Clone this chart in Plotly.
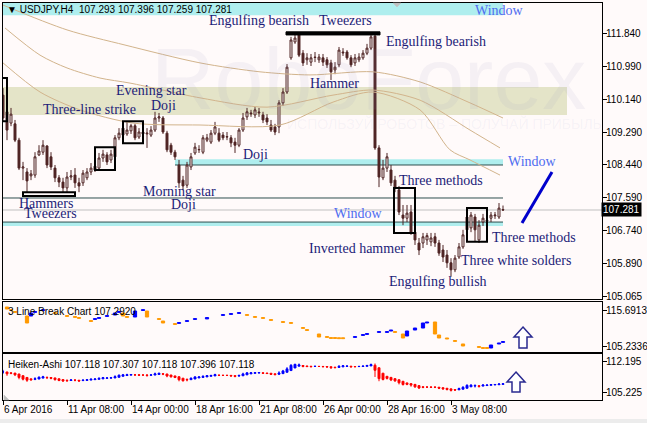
import plotly.graph_objects as go

W, H = 647, 423

# ---------------- data: USDJPY H4 (bar 0 = 6 Apr 2016 00:00) ----------------
opens = [110.24, 109.81, 109.52, 109.50, 109.08, 108.36, 108.26, 108.16, 108.18, 108.70,
         108.77, 108.93, 108.65, 108.36, 108.11, 108.00, 107.85, 108.13, 108.18, 107.98,
         107.98, 108.11, 108.26, 108.31, 108.36, 108.62, 108.70, 108.57, 108.65, 109.14,
         109.21, 109.24, 109.32, 109.45, 109.16, 109.29, 109.24, 109.21, 109.34, 109.65,
         109.65, 109.26, 108.95, 108.77, 108.44, 108.05, 107.92, 108.39, 108.75, 108.83,
         108.77, 109.08, 109.03, 109.26, 109.26, 109.21, 109.16, 109.14, 109.03, 108.95,
         109.34, 109.68, 109.78, 109.73, 109.78, 109.73, 109.65, 109.47, 109.42, 109.42,
         110.04, 110.32, 111.20, 111.61, 111.84, 111.32, 111.15, 111.09, 111.22, 111.15,
         111.20, 111.15, 111.07, 110.89, 111.02, 111.35, 111.35, 111.20, 111.07, 111.15,
         111.20, 111.32, 111.45, 111.76, 108.88, 108.11, 108.36, 108.31, 108.05, 107.80,
         107.15, 107.07, 107.23, 106.71, 106.43, 106.43, 106.51, 106.46, 106.59, 106.43,
         106.25, 106.12, 105.92, 105.74, 106.07, 106.33, 106.77, 106.82, 107.10, 106.51,
         106.97, 107.02, 107.07, 107.13, 107.10, 107.293]
highs = [110.42, 109.91, 109.91, 109.60, 109.14, 108.52, 108.36, 108.31, 108.77, 108.95,
         109.08, 108.95, 108.77, 108.44, 108.18, 108.11, 108.26, 108.31, 108.36, 108.11,
         108.31, 108.36, 108.49, 108.52, 108.75, 108.83, 108.77, 108.83, 109.21, 109.39,
         109.50, 109.55, 109.50, 109.50, 109.39, 109.34, 109.39, 109.44, 109.81, 109.78,
         109.70, 109.32, 109.01, 108.83, 108.57, 108.16, 108.52, 108.75, 109.01, 108.95,
         109.21, 109.24, 109.34, 109.55, 109.39, 109.29, 109.29, 109.21, 109.14, 109.39,
         109.78, 109.91, 109.86, 109.93, 109.91, 109.81, 109.75, 109.60, 109.50, 110.11,
         110.42, 111.04, 111.74, 111.79, 111.86, 111.40, 111.32, 111.30, 111.35, 111.30,
         111.30, 111.22, 111.15, 111.09, 111.48, 111.45, 111.40, 111.27, 111.30, 111.32,
         111.40, 111.56, 111.84, 111.86, 108.95, 108.57, 108.75, 108.44, 108.16, 107.90,
         107.41, 107.41, 107.41, 106.82, 106.56, 106.69, 106.69, 106.69, 106.69, 106.51,
         106.38, 106.25, 106.04, 106.12, 106.43, 106.77, 107.20, 107.23, 107.18, 107.02,
         107.18, 107.13, 107.23, 107.23, 107.46, 107.396]
lows = [109.55, 109.08, 109.44, 109.03, 108.31, 108.05, 107.72, 108.05, 108.11, 108.67,
        108.70, 108.36, 108.31, 108.00, 107.87, 107.72, 107.72, 108.05, 107.85, 107.74,
        107.90, 108.05, 108.18, 108.26, 108.31, 108.52, 108.44, 108.49, 108.57, 109.08,
        109.14, 109.19, 109.24, 109.08, 109.11, 109.16, 108.88, 109.16, 109.29, 109.55,
        109.24, 108.77, 108.70, 108.57, 107.85, 107.80, 107.85, 108.31, 108.70, 108.75,
        108.72, 109.03, 108.98, 109.21, 109.03, 109.08, 109.08, 108.90, 108.75, 108.90,
        109.29, 109.60, 109.68, 109.65, 109.68, 109.52, 109.47, 109.29, 109.21, 109.26,
        109.96, 110.27, 111.15, 111.56, 111.22, 110.99, 111.02, 110.99, 111.09, 111.07,
        110.99, 110.94, 110.63, 110.78, 110.96, 111.25, 111.15, 110.96, 110.99, 111.09,
        111.15, 111.27, 111.40, 108.83, 107.87, 108.05, 108.26, 107.90, 107.74, 107.15,
        106.89, 106.97, 106.64, 106.38, 106.12, 106.30, 106.38, 106.35, 106.33, 106.10,
        105.94, 105.79, 105.56, 105.68, 106.02, 106.28, 106.69, 106.71, 106.46, 106.43,
        106.87, 106.92, 106.97, 107.05, 107.05, 107.259]
closes = [109.65, 109.34, 109.75, 109.08, 108.36, 108.39, 108.03, 108.21, 108.65, 108.80,
          108.95, 108.44, 108.39, 108.11, 108.00, 107.85, 108.13, 108.16, 107.98, 107.90,
          108.23, 108.26, 108.36, 108.41, 108.62, 108.72, 108.52, 108.72, 109.14, 109.26,
          109.39, 109.34, 109.45, 109.14, 109.29, 109.24, 109.26, 109.34, 109.65, 109.68,
          109.29, 108.83, 108.77, 108.65, 107.98, 107.90, 108.44, 108.65, 108.90, 108.84,
          109.14, 109.14, 109.26, 109.42, 109.08, 109.14, 109.17, 109.01, 108.95, 109.34,
          109.65, 109.81, 109.76, 109.86, 109.80, 109.60, 109.55, 109.34, 109.29, 110.04,
          110.32, 110.96, 111.66, 111.71, 111.27, 111.07, 111.20, 111.20, 111.21, 111.22,
          111.09, 111.02, 110.84, 110.96, 111.40, 111.33, 111.20, 111.02, 111.20, 111.22,
          111.32, 111.45, 111.74, 108.88, 108.13, 108.36, 108.65, 107.98, 107.85, 107.23,
          107.07, 107.20, 106.71, 106.51, 106.25, 106.59, 106.62, 106.56, 106.43, 106.17,
          106.07, 105.92, 105.74, 106.04, 106.33, 106.64, 107.10, 107.15, 106.77, 106.89,
          107.07, 107.00, 107.15, 107.15, 107.33, 107.281]
bars = list(range(len(closes)))

# moving averages (bar index, price)
ma1_x = [0, 16, 30.5, 49.25, 64.25, 76.75, 92.5, 104.25, 116.75, 125]
ma1_y = [112.56, 111.92, 111.53, 111.07, 110.84, 110.76, 110.84, 110.58, 110.04, 109.65]
ma2_x = [0.5, 9.25, 16, 24.25, 31.75, 49.25, 66, 82.5, 92.5, 104.25, 116.75, 124.25]
ma2_y = [111.97, 111.27, 110.94, 110.68, 110.55, 110.17, 109.93, 110.24, 110.37, 110.11, 109.34, 108.88]
ma3_x = [0, 9.25, 19.25, 32.5, 49.25, 69.25, 82.5, 92.5, 104.25, 111.75, 116.75, 124.25]
ma3_y = [111.07, 110.32, 109.86, 109.52, 109.47, 109.47, 110.06, 110.32, 109.86, 108.83, 108.57, 108.18]

# 3 Line Break indicator segments
lb_x = [1, 2, 3, 6, 7, 8, 10, 13, 16, 18, 19, 22, 23, 24, 26, 28, 29, 30, 31, 33, 35, 36, 39, 40,
        43, 44, 46, 48, 51, 55, 57, 59, 61, 63, 65, 67, 70, 72, 75, 76, 79, 81, 82, 83, 84, 85,
        88, 90, 91, 94, 96, 97, 98, 100, 101, 103, 105, 106, 108, 109, 111, 113, 115, 119, 120,
        121, 122, 124, 125]
lb_top = [116.56, 115.80, 115.25, 113.95, 114.82, 115.25, 115.80, 114.95, 114.08, 113.80, 113.50,
          112.62, 113.20, 113.50, 114.08, 114.82, 115.25, 114.82, 113.80, 115.40, 115.80, 115.40,
          113.20, 112.50, 111.75, 112.05, 112.62, 113.20, 113.50, 114.37, 114.66, 114.95, 114.37,
          113.80, 113.50, 112.92, 112.33, 112.05, 110.60, 110.00, 108.72, 107.98, 107.68, 107.68,
          107.62, 107.62, 107.98, 108.56, 108.85, 109.43, 109.43, 109.88, 109.43, 108.72, 109.59,
          110.46, 111.92, 112.21, 112.21, 108.43, 107.56, 106.82, 105.82, 105.07, 104.78, 104.78,
          105.52, 106.11, 106.53]
lb_bot = [115.98, 115.55, 115.00, 111.92, 113.95, 115.00, 115.55, 114.70, 113.83, 113.55, 113.25,
          112.37, 112.95, 113.25, 113.83, 114.24, 115.00, 113.95, 113.55, 113.66, 115.55, 113.66,
          112.95, 111.92, 111.50, 111.80, 112.37, 112.95, 113.10, 114.12, 114.41, 114.70, 114.12,
          113.55, 113.25, 112.67, 112.08, 111.80, 110.35, 109.75, 107.85, 107.73, 107.43, 107.43,
          107.37, 107.37, 107.73, 108.31, 108.60, 109.18, 109.18, 109.59, 109.18, 107.56, 108.14,
          109.88, 110.46, 111.92, 108.72, 107.56, 107.27, 106.57, 105.23, 104.82, 104.53, 104.53,
          104.65, 105.82, 106.28]
lb_up = [0, 0, 0, 0, 1, 1, 1, 0, 0, 0, 0, 0, 1, 1, 1, 1, 1, 0, 0, 1, 1, 0, 0, 0, 0, 1, 1, 1, 1, 1,
         1, 1, 0, 0, 0, 0, 0, 0, 0, 0, 0, 0, 0, 0, 0, 0, 1, 1, 1, 1, 1, 1, 0, 0, 1, 1, 1, 1, 0, 0,
         0, 0, 0, 0, 0, 0, 1, 1, 1]

main_ticks = [111.840, 110.990, 110.140, 109.290, 108.440, 107.590, 106.740, 105.890, 105.065]
lb_ticks = [115.6913, 105.2336]
ha_ticks = [112.195, 105.225]
time_ticks = [0, 16, 32, 48, 64, 80, 96, 112]
time_labels = ["6 Apr 2016", "11 Apr 08:00", "14 Apr 00:00", "18 Apr 16:00",
               "21 Apr 08:00", "26 Apr 00:00", "28 Apr 16:00", "3 May 08:00"]
last_price = 107.281

# Heiken-Ashi derived from the candles (indicator definition)
ha_c = [(o + h + l + c) / 4 for o, h, l, c in zip(opens, highs, lows, closes)]
ha_o = [(opens[0] + closes[0]) / 2]
for k in range(1, len(closes)):
    ha_o.append((ha_o[-1] + ha_c[k - 1]) / 2)
ha_h = [max(h, o, c) for h, o, c in zip(highs, ha_o, ha_c)]
ha_l = [min(l, o, c) for l, o, c in zip(lows, ha_o, ha_c)]

# ---------------- styling ----------------
BG = "#fffafa"
CANDLE = "#4f2424"
TAN = "#d2b48c"
CYAN = "#afeeee"
DARK = "#2f4f4f"
NAVY = "#1c1c78"
WINB = "#4f6cf0"
SERIF = "Liberation Serif"
SANS = "Liberation Sans"

XR = [0, 149.75]
XD = [3 / W, 602 / W]


def PX(x):
    return x / W


def PY(y):
    return 1 - y / H


fig = go.Figure()

fig.add_trace(go.Candlestick(
    x=bars, open=opens, high=highs, low=lows, close=closes, xaxis="x", yaxis="y",
    increasing=dict(line=dict(color=CANDLE, width=1), fillcolor=BG),
    decreasing=dict(line=dict(color=CANDLE, width=1), fillcolor=CANDLE),
    whiskerwidth=0, showlegend=False, hoverinfo="skip"))

for mx, my in [(ma1_x, ma1_y), (ma2_x, ma2_y), (ma3_x, ma3_y)]:
    fig.add_trace(go.Scatter(x=mx, y=my, mode="lines", xaxis="x", yaxis="y",
                             line=dict(color=TAN, width=1, shape="spline", smoothing=0.8),
                             showlegend=False, hoverinfo="skip"))

lb_colors = ["#0000ff" if u else "#ff9900" for u in lb_up]
fig.add_trace(go.Bar(
    x=lb_x, y=[t - b for t, b in zip(lb_top, lb_bot)], base=lb_bot, xaxis="x2", yaxis="y2",
    width=0.8, marker=dict(color=lb_colors, line=dict(width=1, color=lb_colors)),
    showlegend=False, hoverinfo="skip"))

fig.add_trace(go.Candlestick(
    x=bars, open=ha_o, high=ha_h, low=ha_l, close=ha_c, xaxis="x3", yaxis="y3",
    increasing=dict(line=dict(color="#0000ff", width=1), fillcolor="#0000ff"),
    decreasing=dict(line=dict(color="#ff0000", width=1), fillcolor="#ff0000"),
    whiskerwidth=0, showlegend=False, hoverinfo="skip"))

shapes = []


def rect(x0, x1, y0, y1, fill=None, line=None, lw=0, layer="above"):
    shapes.append(dict(type="rect", xref="x", yref="y", x0=x0, x1=x1, y0=y0, y1=y1,
                       fillcolor=fill if fill else "rgba(0,0,0,0)",
                       line=dict(color=line if line else "rgba(0,0,0,0)", width=lw), layer=layer))


def hline(x0, x1, y, color, w=1, layer="below"):
    shapes.append(dict(type="line", xref="x", yref="y", x0=x0, x1=x1, y0=y, y1=y,
                       line=dict(color=color, width=w), layer=layer))


# bands / windows
rect(0, 141, 109.73, 110.45, fill="#e4e4c8", layer="below")
rect(0, 125, 112.30, 112.70, fill=CYAN, layer="below")
rect(43, 125, 108.44, 108.59, fill=CYAN, layer="below")
hline(43, 125, 108.44, DARK)
hline(0, 125, 107.59, DARK)
rect(0, 125, 106.87, 106.97, fill=CYAN, layer="below")
hline(0, 125, 106.97, DARK)
shapes.append(dict(type="line", xref="x domain", yref="y", x0=0, x1=1, y0=last_price, y1=last_price,
                   line=dict(color="#c0c0c0", width=1), layer="below"))

# pattern boxes
rect(-0.3, 1.0, 109.57, 110.68, line="black", lw=2)
rect(23, 28, 108.31, 108.90, line="black", lw=2)
rect(30, 35, 109.00, 109.57, line="black", lw=2)
rect(5, 18, 107.64, 107.74, line="black", lw=2)
rect(70.75, 94.25, 111.79, 111.87, fill="black", line="black", lw=1)
rect(97.75, 103, 106.69, 107.85, line="black", lw=2)
rect(116, 121, 106.46, 107.33, line="black", lw=2)
shapes.append(dict(type="line", xref="x", yref="y", x0=129.75, y0=106.946, x1=137.25, y1=108.26,
                   line=dict(color="#0000cc", width=3)))


def poly(pts, fill, color, w=1.2):
    d = "M " + " L ".join(f"{PX(x):.5f},{PY(y):.5f}" for x, y in pts) + " Z"
    shapes.append(dict(type="path", xref="paper", yref="paper", path=d, fillcolor=fill,
                       line=dict(color=color, width=w)))


poly([(523, 327), (532, 337), (527, 337), (527, 348), (519, 348), (519, 337), (514, 337)], "white", "#2a2a90", 1.5)
poly([(516, 372), (525, 382), (520, 382), (520, 392), (512, 392), (512, 382), (507, 382)], "white", "#2a2a90", 1.5)
poly([(4, 395), (4, 400), (9, 400)], "#c0c0c0", "#c0c0c0", 0.5)
poly([(393, 3), (401, 3), (397, 7)], "#c0c0c0", "#c0c0c0", 0.5)
shapes.append(dict(type="rect", xref="paper", yref="paper", x0=0, x1=1, y0=0, y1=PY(419),
                   fillcolor="#ececec", line=dict(width=0)))

ann = []
# watermark
ann.append(dict(xref="paper", yref="paper", x=PX(368), y=PY(78), text="RoboForex", showarrow=False,
                font=dict(family=SANS, size=88, color="rgba(140,140,190,0.09)"), xanchor="center", yanchor="middle"))
ann.append(dict(xref="paper", yref="paper", x=PX(444), y=PY(124), text="ИСПОЛЬЗУЙ РОБОТОВ – ПОЛУЧАЙ ПРИБЫЛЬ",
                showarrow=False, font=dict(family=SANS, size=14, color="rgba(140,140,190,0.08)"),
                xanchor="center", yanchor="middle"))


def label(x, y, t, color=NAVY, size=14):
    ann.append(dict(xref="x", yref="y", x=x, y=y, text=t, showarrow=False, xanchor="left", yanchor="middle",
                    font=dict(family=SERIF, size=size, color=color), borderpad=0))


label(9.75, 109.857, "Three-line strike")
label(28, 110.35, "Evening star")
label(36.75, 109.96, "Doji")
label(51.25, 112.15, "Engulfing bearish")
label(78.75, 112.15, "Tweezers")
label(95.5, 111.61, "Engulfing bearish")
label(76.5, 110.53, "Hammer")
label(59.75, 108.72, "Doji")
label(34.75, 107.77, "Morning star")
label(41.75, 107.41, "Doji")
label(3.75, 107.46, "Hammers")
label(5, 107.18, "Tweezers")
label(82.5, 107.20, "Window", WINB)
label(76.25, 106.28, "Inverted hammer")
label(96.25, 105.45, "Engulfing bullish")
label(98.75, 108.03, "Three methods")
label(126, 108.52, "Window", WINB)
label(122, 106.56, "Three methods")
label(114.25, 105.97, "Three white solders")
label(117.75, 112.41, "Window", WINB)

ann.append(dict(xref="paper", yref="paper", x=PX(5), y=PY(9), xanchor="left", yanchor="middle", showarrow=False,
                text="▼ USDJPY,H4  107.293 107.396 107.259 107.281", font=dict(family=SANS, size=10, color="black")))
ann.append(dict(xref="paper", yref="paper", x=PX(6), y=PY(311), xanchor="left", yanchor="middle", showarrow=False,
                text="3 Line Break Chart 107.2920", font=dict(family=SANS, size=10, color="black")))
ann.append(dict(xref="paper", yref="paper", x=PX(6), y=PY(364), xanchor="left", yanchor="middle", showarrow=False,
                text="Heiken-Ashi 107.118 107.307 107.118 107.396 107.118",
                font=dict(family=SANS, size=10, color="black")))
ann.append(dict(xref="paper", yref="y", x=PX(601), y=last_price, xanchor="left", yanchor="middle", showarrow=False,
                text=f"{last_price:.3f}", bgcolor="black", borderpad=1,
                font=dict(family=SANS, size=10, color="white")))

ax_common = dict(range=XR, domain=XD, showgrid=False, zeroline=False, showline=True, mirror=True,
                 linecolor="black", linewidth=1, fixedrange=True, automargin=False)
yax_common = dict(side="right", showgrid=False, zeroline=False, showline=True, mirror=True,
                  linecolor="black", linewidth=1, ticks="outside", ticklen=4, tickcolor="black",
                  tickfont=dict(family=SANS, size=10, color="black"), fixedrange=True,
                  automargin=False, ticklabelstandoff=-3)

fig.update_layout(
    width=W, height=H, margin=dict(l=0, r=0, t=0, b=0, autoexpand=False), paper_bgcolor=BG, plot_bgcolor=BG,
    showlegend=False, font=dict(family=SANS, size=10, color="black"),
    xaxis=dict(ax_common, anchor="y", showticklabels=False, ticks="", rangeslider=dict(visible=False)),
    xaxis2=dict(ax_common, anchor="y2", showticklabels=False, ticks=""),
    xaxis3=dict(ax_common, anchor="y3", tickmode="array", tickvals=time_ticks, ticktext=time_labels,
                ticks="outside", ticklen=4, tickcolor="black", ticklabelposition="outside right",
                tickangle=0, tickfont=dict(family=SANS, size=10, color="black"),
                rangeslider=dict(visible=False)),
    yaxis=dict(yax_common, anchor="x", domain=[PY(299), PY(3)], range=[104.988, 112.613],
               tickmode="array", tickvals=main_ticks, ticktext=[f"{v:.3f}" for v in main_ticks]),
    yaxis2=dict(yax_common, anchor="x2", domain=[PY(352), PY(302)], range=[103.49, 118.02],
                tickmode="array", tickvals=lb_ticks, ticktext=[f"{v:.4f}" for v in lb_ticks]),
    yaxis3=dict(yax_common, anchor="x3", domain=[PY(400), PY(354)], range=[103.65, 113.99],
                tickmode="array", tickvals=ha_ticks, ticktext=[f"{v:.3f}" for v in ha_ticks]),
    shapes=shapes, annotations=ann, bargap=0.15,
)

fig.write_html("out.html", config={"displayModeBar": False, "staticPlot": True},
               post_script="document.body.style.margin='0';document.body.style.padding='0';"
                           "document.body.style.overflow='hidden';")
